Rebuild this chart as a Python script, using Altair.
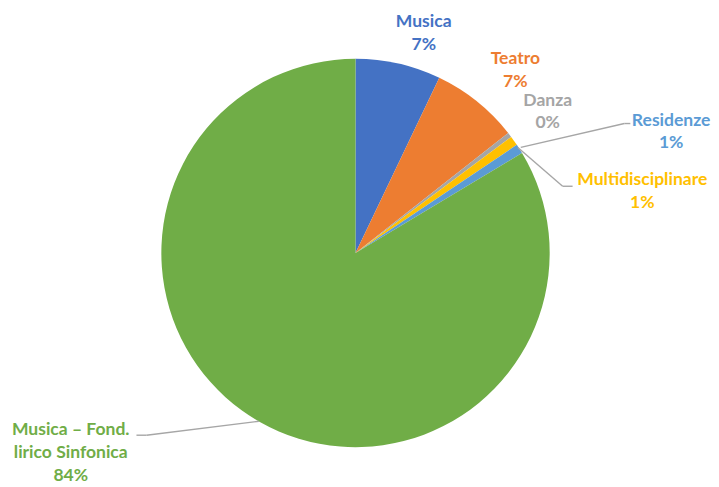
import altair as alt
import pandas as pd

# ---- data ----
categories = ["Musica", "Teatro", "Danza", "Multidisciplinare", "Residenze",
              "Musica – Fond. lirico Sinfonica"]
shares = [7.1, 7.3, 0.4, 0.8, 0.8, 83.6]
colors = ["#4472C4", "#ED7D31", "#A5A5A5", "#FFC000", "#5B9BD5", "#70AD47"]
label_names = ["Musica", "Teatro", "Danza", "Multidisciplinare", "Residenze",
               "Musica – Fond.\nlirico Sinfonica"]

# ---- layout (pixels inside the plot area) ----
W, H = 703, 471
CX, CY, R = 349, 245, 195
label_x = [417.5, 509.5, 542, 637, 666, 63]
label_y = [13.5, 50.5, 92, 172, 112, 423]   # centre of each label's first line
leader_segments = [  # (x, y, x2, y2)
    (515, 139, 619, 115), (619, 115, 625, 115),
    (512, 139, 557, 178), (557, 178, 567, 178),
    (129, 428, 139, 428), (139, 428, 252, 414),
]

total = sum(shares)
df = pd.DataFrame({
    "category": categories,
    "share": shares,
    "idx": list(range(len(categories))),
    "label": [f"{n}\n{round(v / total * 100):.0f}%" for n, v in zip(label_names, shares)],
    "lx": label_x,
    "ly": label_y,
})
seg = pd.DataFrame(leader_segments, columns=["x", "y", "x2", "y2"])

color_scale = alt.Scale(domain=categories, range=colors)

pie = alt.Chart(df).mark_arc(outerRadius=R).encode(
    theta=alt.Theta("share:Q", stack=True),
    color=alt.Color("category:N", scale=color_scale, legend=None),
    order=alt.Order("idx:Q"),
    x=alt.value(CX),
    y=alt.value(CY),
)

leaders = alt.Chart(seg).mark_rule(color="#A6A6A6", strokeWidth=1.4).encode(
    x=alt.X("x:Q", scale=None, axis=None),
    y=alt.Y("y:Q", scale=None, axis=None),
    x2="x2:Q",
    y2="y2:Q",
)

labels = alt.Chart(df).mark_text(
    font="Lato", fontWeight="bold", fontSize=17.6, lineBreak="\n", lineHeight=23,
    align="center", baseline="middle",
).encode(
    x=alt.X("lx:Q", scale=None, axis=None),
    y=alt.Y("ly:Q", scale=None, axis=None),
    text="label:N",
    color=alt.Color("category:N", scale=color_scale, legend=None),
)

chart = alt.layer(pie, leaders, labels).properties(
    width=W, height=H, padding=0, background="white"
).configure_view(stroke=None)

chart.save("out.html", embed_options={"renderer": "svg", "actions": False})
